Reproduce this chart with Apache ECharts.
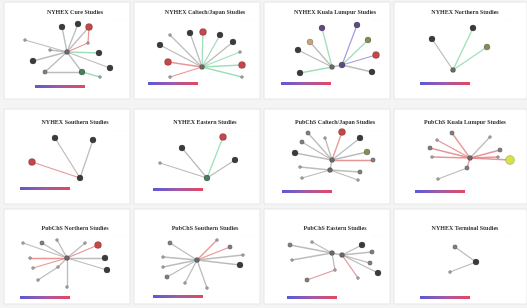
<!DOCTYPE html>
<html>
<head>
<meta charset="utf-8">
<script src="https://cdn.jsdelivr.net/npm/echarts@6/dist/echarts.min.js"></script>
<style>
  html, body { margin: 0; padding: 0; background: #f4f4f4; }
  #chart { width: 527px; height: 308px; }
</style>
</head>
<body>
<div id="chart"></div>
<script>
// panel titles, row by row
const titles = [
  'NYHEX Cure Studies', 'NYHEX Caltech/Japan Studies', 'NYHEX Kuala Lumpur Studies', 'NYHEX Northern Studies',
  'NYHEX Southern Studies', 'NYHEX Eastern Studies', 'PubChS Caltech/Japan Studies', 'PubChS Kuala Lumpur Studies',
  'PubChS Northern Studies', 'PubChS Southern Studies', 'PubChS Eastern Studies', 'NYHEX Terminal Studies'
]

// node positions per panel (panel units: x 0..130, y 0..100 from the top)
const nodes1 = [[67,52],[62,27],[78,24],[89,27],[88,43],[25,40],[50,50],[33,61],[45,72],[82,72],[99,53],[110,68],[100,77]]
const nodes2 = [[72,67],[30,45],[38,62],[40,35],[60,33],[73,32],[90,35],[103,42],[110,52],[112,65],[112,77],[40,77]]
const nodes3 = [[72,67],[82,65],[38,50],[50,42],[62,28],[97,25],[108,40],[116,55],[112,72],[40,73]]
const nodes4 = [[63,70],[42,39],[83,28],[97,47]]
const nodes5 = [[80,78],[55,38],[93,40],[32,62]]
const nodes6 = [[77,78],[52,48],[93,37],[105,60],[30,63]]
const nodes7 = [[72,60],[70,70],[48,33],[65,38],[82,32],[100,38],[42,42],[107,52],[35,53],[113,60],[40,67],[100,72],[42,78],[98,80]]
const nodes8 = [[80,58],[62,33],[47,40],[40,48],[42,57],[100,37],[110,50],[108,57],[120,60],[77,68],[48,79]]
const nodes9 = [[67,58],[23,43],[42,43],[57,40],[85,43],[98,45],[30,58],[105,58],[33,68],[107,70],[58,67],[38,80],[67,87]]
const nodes10 = [[67,60],[40,43],[87,40],[100,47],[113,55],[110,65],[33,57],[33,67],[37,77],[55,83],[77,88]]
const nodes11 = [[72,53],[82,55],[30,45],[52,42],[102,45],[112,52],[32,60],[110,63],[118,73],[75,70],[47,80],[98,78]]
const nodes12 = [[86,62],[65,47],[60,72]]

// edges per panel [source, target]
const links1 = [[0,1],[0,2],[0,3],[0,4],[0,5],[0,6],[0,7],[0,8],[0,9],[0,10],[0,11],[8,9],[9,12],[3,4]]
const links2 = [[0,1],[0,2],[0,3],[0,4],[0,5],[0,6],[0,7],[0,8],[0,9],[0,10],[0,11]]
const links3 = [[0,2],[0,3],[0,4],[1,5],[1,6],[1,7],[1,8],[0,9],[0,1]]
const links4 = [[0,1],[0,2],[0,3]]
const links5 = [[0,1],[0,2],[0,3]]
const links6 = [[0,1],[0,2],[0,3],[0,4]]
const links7 = [[0,2],[0,3],[0,4],[0,5],[0,6],[0,7],[0,8],[0,9],[1,10],[1,11],[1,12],[1,13],[0,1]]
const links8 = [[0,1],[0,2],[0,3],[0,4],[0,5],[0,6],[0,7],[0,8],[0,9],[9,10]]
const links9 = [[0,1],[0,2],[0,3],[0,4],[0,5],[0,6],[0,7],[0,8],[0,9],[0,10],[10,11],[0,12]]
const links10 = [[0,1],[0,2],[0,3],[0,4],[0,5],[0,6],[0,7],[0,8],[0,9],[0,10]]
const links11 = [[0,2],[0,3],[0,6],[0,1],[1,4],[1,5],[1,7],[1,8],[0,9],[9,10],[1,11]]
const links12 = [[0,1],[0,2]]

// ---- styles (one letter per node / per edge) ----
const nodeKinds = [
  'hddrsssdgndds', 'hdrsdrddsrss', 'hpdtppordd', 'hddo',
  'dddr', 'ndrds', 'hhgsrdgodgsgss', 'hgsgssgsygs',
  'hsgssrsdsdsss', 'hgsgsdssgss', 'hhgsdgsgdsgs', 'dgs'
]
const linkKinds = [
  'gggrgggggnggnr', 'grggnngnnnr', 'ggnpnpgng', 'gnn',
  'ggr', 'gngg', 'ggrggggrggggg', 'rrrrgrrrrg',
  'ggggrrgrggggg', 'grrgggggggg', 'gggggggggrrn', 'gg'
]
const nodeStyle = {
  h: { size: 5, color: '#6a6a6a' },
  d: { size: 6, color: '#3b3b3b' },
  s: { size: 3, color: '#a4a4a4' },
  g: { size: 4.5, color: '#7f7f7f' },
  r: { size: 7, color: '#c4474a' },
  o: { size: 6, color: '#8b8a55' },
  t: { size: 6, color: '#c9a27b' },
  p: { size: 6, color: '#5d4b7e' },
  y: { size: 9, color: '#d6e24a' },
  n: { size: 6, color: '#4b7b5b' }
}
const linkColor = { g: '#b0b0b0', r: '#e58384', n: '#8fd8ad', p: '#9a8bd6' }

const allNodes = [nodes1, nodes2, nodes3, nodes4, nodes5, nodes6, nodes7, nodes8, nodes9, nodes10, nodes11, nodes12]
const allLinks = [links1, links2, links3, links4, links5, links6, links7, links8, links9, links10, links11, links12]

const colX = [0, 130, 260, 390]
const rowY = [0, 100, 200]
const titleY = [12, 122, 228]
const barPos = [
  [35, 85], [148, 82], [281, 82], [420, 82],
  [20, 187], [153, 188], [282, 190], [415, 190],
  [20, 296], [153, 295], [287, 296], [420, 296]
]

const myChart = echarts.init(document.getElementById('chart'))

const grid = [], xAxis = [], yAxis = [], series = [], graphic = []

// card backgrounds
colX.forEach((x, c) => {
  rowY.forEach((y, r) => {
    graphic.push({
      type: 'rect', z: -10,
      shape: { x: x + 4, y: y + (r === 0 ? 2 : 9), width: (c === 3 ? 133 : 126), height: (r === 0 ? 97 : 95) },
      style: { fill: '#ffffff', stroke: '#e6e6e6', lineWidth: 1 }
    })
  })
})

allNodes.forEach((nodes, i) => {
  const c = i % 4, r = Math.floor(i / 4)
  grid.push({ left: colX[c], top: rowY[r], width: 130, height: 100 })
  xAxis.push({ gridIndex: i, type: 'value', min: 0, max: 130, show: false })
  yAxis.push({ gridIndex: i, type: 'value', min: 0, max: 100, inverse: true, show: false })
  const kinds = nodeKinds[i]
  const lk = linkKinds[i]
  series.push({
    type: 'graph',
    coordinateSystem: 'cartesian2d',
    xAxisIndex: i,
    yAxisIndex: i,
    symbol: 'circle',
    silent: true,
    data: nodes.map((p, j) => {
      const st = nodeStyle[kinds[j]] || nodeStyle.s
      return {
        value: p,
        symbolSize: st.size,
        itemStyle: { color: st.color, borderColor: 'rgba(0,0,0,0.3)', borderWidth: 0.6 }
      }
    }),
    links: allLinks[i].map((l, j) => ({
      source: l[0],
      target: l[1],
      lineStyle: { color: linkColor[lk[j]] || linkColor.g }
    })),
    lineStyle: { width: 1.3, opacity: 0.85 },
    z: 2
  })
  graphic.push({
    type: 'text',
    x: colX[c] + 75, y: titleY[r],
    style: {
      text: titles[i], fill: '#333', align: 'center', verticalAlign: 'middle',
      font: 'bold 6px "Liberation Serif"'
    }
  })
  graphic.push({
    type: 'text',
    x: colX[c] + 124, y: titleY[r] + 9,
    style: { text: '· · · · ·', fill: '#d8d8d8', align: 'right', verticalAlign: 'middle', font: '4px "DejaVu Sans"' }
  })
  graphic.push({
    type: 'rect',
    shape: { x: barPos[i][0], y: barPos[i][1], width: 50, height: 3 },
    style: {
      fill: new echarts.graphic.LinearGradient(0, 0, 1, 0, [
        { offset: 0, color: '#5a5ad6' },
        { offset: 0.5, color: '#a05aa8' },
        { offset: 1, color: '#e8465e' }
      ])
    }
  })
})

myChart.setOption({
  animation: false,
  grid, xAxis, yAxis, series, graphic
})
</script>
</body>
</html>
